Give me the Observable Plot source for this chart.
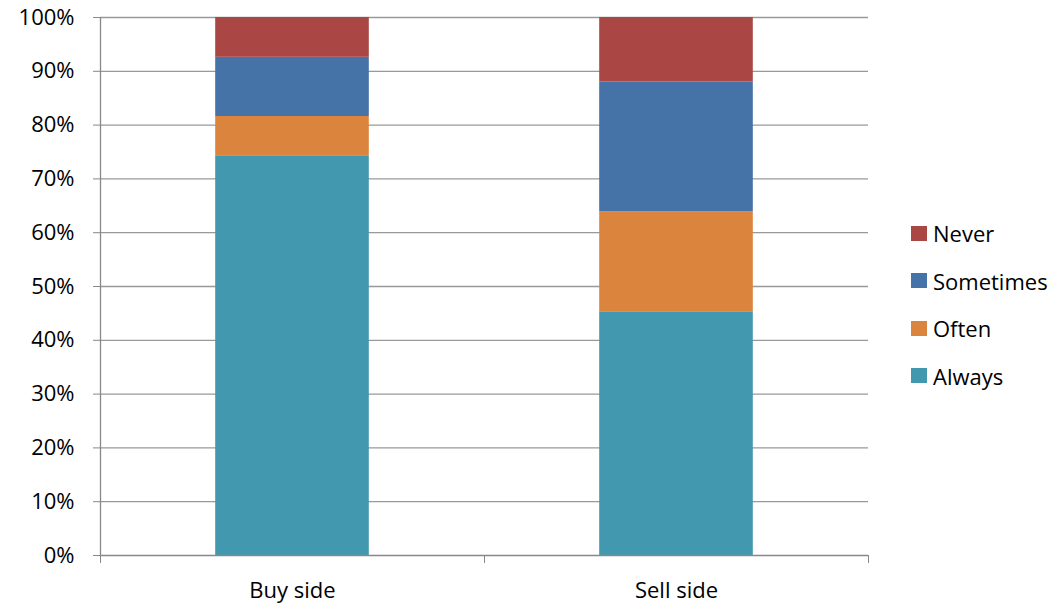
<!DOCTYPE html>
<html>
<head>
<meta charset="utf-8">
<script src="https://cdn.jsdelivr.net/npm/d3@7"></script>
<script src="https://cdn.jsdelivr.net/npm/@observablehq/plot@0.6"></script>
<style>
  html, body { margin: 0; padding: 0; background: #fff; }
  #wrap { position: relative; width: 1059px; height: 607px; font-family: "Open Sans", sans-serif; }
  #legend { position: absolute; left: 911px; top: 221px; font-size: 22px; color: #000; }
  .item { display: flex; align-items: center; height: 24px; margin-bottom: 23.5px; }
  .sw { width: 16px; height: 15px; margin-right: 6px; }
</style>
</head>
<body>
<div id="wrap"><div id="chart"></div><div id="legend"></div></div>
<script>
const categories = ["Buy side", "Sell side"];
const seriesNames = ["Always", "Often", "Sometimes", "Never"];
const always    = [0.743, 0.453];
const often     = [0.073, 0.186];
const sometimes = [0.110, 0.241];
const never     = [0.074, 0.120];
const colors = ["#4198AF", "#DB843D", "#4572A7", "#AA4643"];
const yTicks = [0, 0.1, 0.2, 0.3, 0.4, 0.5, 0.6, 0.7, 0.8, 0.9, 1];

const seriesValues = [always, often, sometimes, never];
const data = [];
categories.forEach((c, i) => {
  seriesNames.forEach((s, j) => {
    data.push({ category: c, index: i, series: s, value: seriesValues[j][i] });
  });
});

const grid = "#999999";
const axisColor = "#888888";

const chart = Plot.plot({
  width: 880,
  height: 607,
  marginLeft: 100,
  marginRight: 12,
  marginTop: 17,
  marginBottom: 52,
  style: { fontFamily: "Open Sans, sans-serif", fontSize: "22px", color: "#000", background: "#fff" },
  x: { domain: [0, categories.length], axis: null },
  y: { domain: [0, 1], axis: null },
  color: { domain: seriesNames, range: colors },
  marks: [
    Plot.gridY(yTicks.slice(1), { stroke: grid, strokeOpacity: 1, strokeWidth: 1.3 }),
    Plot.rectY(data, Plot.stackY({
      x1: d => d.index + 0.3,
      x2: d => d.index + 0.7,
      y: "value",
      fill: "series",
      order: seriesNames
    })),
    Plot.ruleX([0], { stroke: axisColor, strokeWidth: 1.3 }),
    Plot.ruleY([0], { stroke: axisColor, strokeWidth: 1.3 }),
    Plot.axisY({ ticks: yTicks, tickFormat: d3.format(".0%"), tickSize: 7, tickPadding: 19, stroke: axisColor, fontSize: 22, fill: "#000", label: null }),
    Plot.axisX({ ticks: d3.range(categories.length + 1), tickFormat: () => "", tickSize: 8, stroke: axisColor, label: null }),
    Plot.axisX({ ticks: categories.map((c, i) => i + 0.5), tickFormat: d => categories[Math.floor(d)], tickSize: 0, tickPadding: 27, fontSize: 22, fill: "#000", label: null })
  ]
});
document.getElementById("chart").appendChild(chart);

const legend = document.getElementById("legend");
[...seriesNames].reverse().forEach(s => {
  const item = document.createElement("div");
  item.className = "item";
  const sw = document.createElement("div");
  sw.className = "sw";
  sw.style.background = colors[seriesNames.indexOf(s)];
  const t = document.createElement("span");
  t.textContent = s;
  item.appendChild(sw);
  item.appendChild(t);
  legend.appendChild(item);
});
</script>
</body>
</html>
